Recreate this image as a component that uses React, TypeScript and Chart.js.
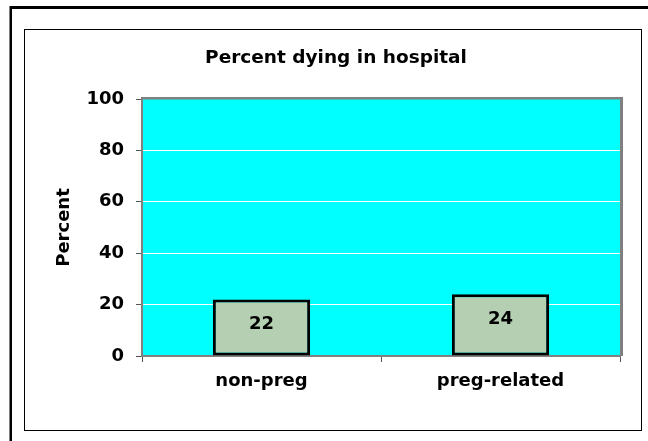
import React, { useEffect, useRef } from 'react';
import { Chart, registerables } from 'chart.js';

Chart.register(...registerables);

// ---- data ----
const categories: string[] = ['non-preg', 'preg-related'];
const percentDying: number[] = [22, 24];
const yTickValues: number[] = [0, 20, 40, 60, 80, 100];
const chartTitle = 'Percent dying in hospital';
const yAxisTitle = 'Percent';

const FONT = '"DejaVu Sans", "Liberation Sans", sans-serif';

const framePlugin = {
  id: 'frame',
  beforeDraw(chart: any) {
    const { ctx, chartArea: a } = chart;
    ctx.save();
    ctx.fillStyle = '#ffffff';
    ctx.fillRect(0, 0, chart.width, chart.height);
    // outer thick black lines
    ctx.fillStyle = '#000000';
    ctx.fillRect(10, 6, chart.width - 10, 3);
    ctx.fillRect(9.5, 6, 2.5, chart.height - 6);
    // inner frame
    ctx.strokeStyle = '#000000';
    ctx.lineWidth = 1;
    ctx.strokeRect(24.5, 29.5, 617, 401);
    // plot background
    ctx.fillStyle = '#00FFFF';
    ctx.fillRect(a.left, a.top, a.right - a.left, a.bottom - a.top);
    ctx.restore();
  },
  beforeDatasetsDraw(chart: any) {
    const { ctx, chartArea: a } = chart;
    ctx.save();
    ctx.fillStyle = '#808080';
    ctx.fillRect(a.left - 1, a.top - 2, a.right - a.left + 4, 2.5);
    ctx.fillRect(a.right, a.top - 2, 3, a.bottom - a.top + 2);
    ctx.restore();
  },
};

const valueLabelPlugin = {
  id: 'valueLabels',
  afterDatasetsDraw(chart: any) {
    const { ctx } = chart;
    const meta = chart.getDatasetMeta(0);
    const data = chart.data.datasets[0].data as number[];
    ctx.save();
    ctx.font = `bold 18px ${FONT}`;
    ctx.fillStyle = '#000000';
    ctx.textAlign = 'center';
    ctx.textBaseline = 'middle';
    meta.data.forEach((bar: any, i: number) => {
      ctx.fillText(String(data[i]), bar.x, bar.y + 25);
    });
    ctx.restore();
  },
};

export default function App() {
  const canvasRef = useRef<HTMLCanvasElement | null>(null);

  useEffect(() => {
    if (!canvasRef.current) return;
    const chart = new Chart(canvasRef.current, {
      type: 'bar',
      data: {
        labels: categories,
        datasets: [
          {
            data: percentDying,
            backgroundColor: '#B5CFB2',
            borderColor: '#000000',
            borderWidth: 3,
            borderSkipped: false,
            barPercentage: 0.407,
            categoryPercentage: 1,
          },
        ],
      },
      options: {
        animation: false,
        responsive: false,
        events: [],
        layout: { padding: { left: 52, right: 28, top: 0, bottom: 0 } },
        plugins: {
          legend: { display: false },
          tooltip: { enabled: false },
          title: {
            display: true,
            text: chartTitle,
            color: '#000000',
            font: { family: FONT, size: 18.5, weight: 'bold' },
            padding: { top: 47.5, bottom: 29.3 },
          },
        },
        scales: {
          x: {
            afterFit: (scale: any) => {
              scale.height = 85;
            },
            grid: {
              drawOnChartArea: false,
              drawTicks: true,
              tickLength: 6,
              color: '#555555',
              tickColor: '#555555',
              offset: true,
            },
            border: { color: '#808080', width: 2 },
            ticks: {
              color: '#000000',
              padding: 9,
              font: { family: FONT, size: 18, weight: 'bold' },
            },
          },
          y: {
            min: 0,
            max: 100,
            afterFit: (scale: any) => {
              scale.width = 90;
            },
            afterBuildTicks: (scale: any) => {
              scale.ticks = yTickValues.map((v) => ({ value: v }));
            },
            grid: {
              color: (c: any) =>
                c.tick && (c.tick.value === 0 || c.tick.value === 100) ? 'rgba(0,0,0,0)' : '#ffffff',
              tickColor: '#555555',
              tickLength: 6,
              lineWidth: 1,
            },
            border: { color: '#808080', width: 2 },
            ticks: {
              color: '#000000',
              padding: 12,
              font: { family: FONT, size: 18, weight: 'bold' },
            },
            title: {
              display: true,
              text: yAxisTitle,
              color: '#000000',
              font: { family: FONT, size: 18, weight: 'bold' },
              padding: { top: 2, bottom: 0 },
            },
          },
        },
      },
      plugins: [framePlugin, valueLabelPlugin],
    } as any);
    return () => chart.destroy();
  }, []);

  return (
    <div style={{ position: 'fixed', left: 0, top: 0, width: 648, height: 441 }}>
      <canvas ref={canvasRef} width={648} height={441} style={{ display: 'block' }} />
    </div>
  );
}
